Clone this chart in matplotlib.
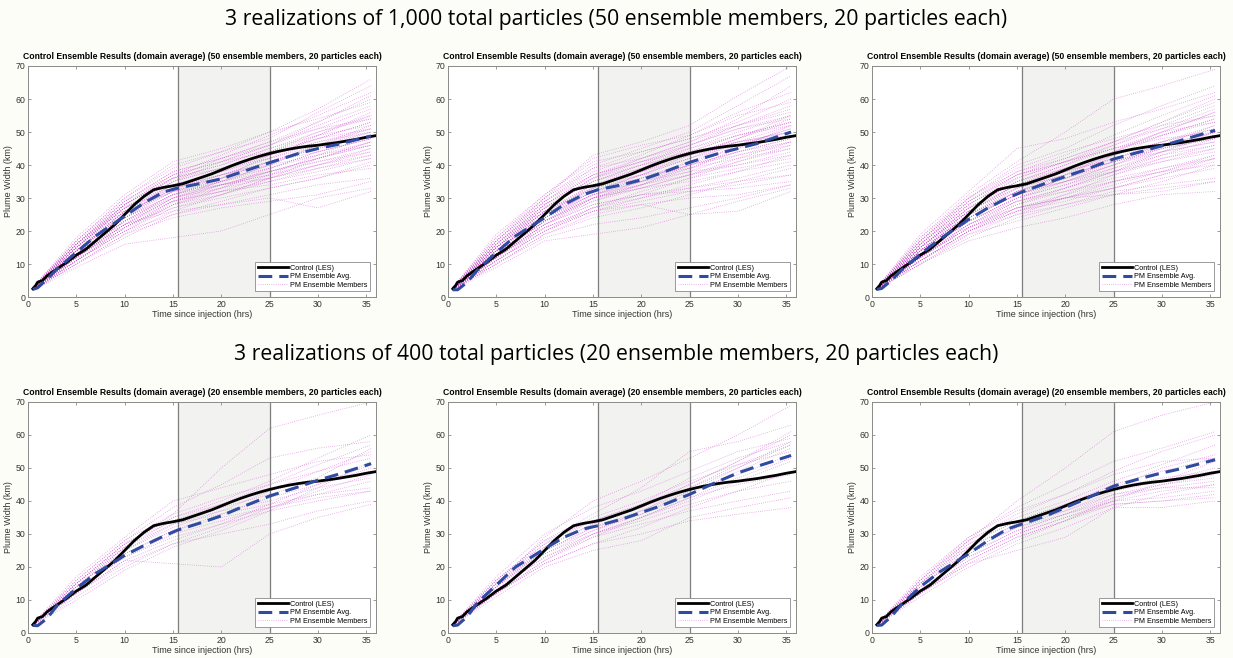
import numpy as np
import matplotlib.pyplot as plt
from matplotlib.lines import Line2D

# --- datos ---------------------------------------------------------------
# curva de control (LES), igual en los seis paneles
ctrl_t = [0.5, 0.8, 1.0, 1.5, 2, 3, 4, 5, 6, 7, 8, 9, 10, 11, 12, 13, 14, 15,
          16, 17, 18, 19, 20, 21, 22, 23, 24, 25, 26, 27, 28, 29, 30, 31, 32,
          33, 34, 35, 36]
ctrl_w = [2.5, 3.5, 4.5, 5.0, 6.5, 8.5, 10.5, 12.7, 14.5, 17.0, 19.5, 22.0,
          25.0, 28.0, 30.5, 32.5, 33.2, 33.7, 34.3, 35.3, 36.3, 37.3, 38.5,
          39.7, 40.8, 41.8, 42.7, 43.5, 44.2, 44.8, 45.3, 45.7, 46.0, 46.4,
          46.8, 47.3, 47.8, 48.4, 48.9]

# media del ensemble (PM) por panel
avg_t = [0.5, 1, 2, 3, 5, 7, 10, 12, 14, 15.5, 18, 20, 22, 25, 28, 30, 32, 35.5]
avg_1 = [2.3, 2.8, 5.5, 8.5, 13.5, 18.5, 24.5, 28.5, 31.8, 33.0, 34.5, 35.8,
         37.8, 40.7, 43.5, 45.0, 46.2, 48.8]
avg_2 = [2.2, 2.2, 4.5, 8.0, 13.5, 18.5, 24.0, 28.0, 31.0, 32.5, 34.0, 35.5,
         37.5, 40.8, 43.5, 45.0, 46.5, 50.0]
avg_3 = [2.3, 2.6, 5.0, 8.0, 13.0, 17.5, 23.5, 27.0, 30.0, 31.8, 34.5, 36.5,
         38.5, 41.8, 44.2, 45.8, 47.5, 50.5]
avg_4 = [2.3, 2.2, 4.5, 8.3, 13.5, 18.0, 23.5, 26.5, 29.3, 31.2, 33.5, 35.5,
         38.0, 41.5, 44.3, 46.3, 48.0, 51.3]
avg_5 = [2.2, 2.4, 5.0, 9.0, 14.5, 20.0, 25.5, 29.0, 31.5, 32.5, 34.5, 36.5,
         38.5, 42.0, 46.0, 48.5, 50.5, 53.8]
avg_6 = [2.3, 2.4, 5.0, 8.5, 14.0, 18.5, 24.0, 28.0, 31.5, 33.0, 35.5, 38.0,
         40.5, 44.5, 47.0, 48.5, 49.8, 52.5]

# miembros del ensemble (uno por fila) en estos tiempos
mem_t = [0.5, 5, 10, 15, 20, 25, 30, 35.5]

mem_1 = [
    [2.5, 14, 26, 35, 39, 44, 49, 55], [2.3, 12, 22, 30, 34, 38, 42, 46],
    [2.8, 16, 29, 38, 42, 47, 53, 60], [2.1, 10, 18, 25, 29, 33, 36, 40],
    [2.6, 15, 27, 33, 36, 41, 45, 49], [2.4, 13, 24, 31, 35, 40, 46, 52],
    [2.2, 11, 20, 27, 31, 36, 40, 44], [2.9, 17, 30, 40, 44, 48, 56, 64],
    [2.5, 13, 23, 29, 32, 35, 38, 42], [2.3, 12, 21, 28, 33, 39, 44, 48],
    [2.7, 15, 28, 36, 40, 45, 50, 54], [2.0, 9, 16, 18, 20, 25, 30, 33],
    [2.6, 14, 25, 34, 38, 42, 47, 51], [2.4, 14, 26, 32, 35, 38, 42, 47],
    [2.8, 16, 28, 37, 43, 49, 55, 62], [2.2, 11, 21, 29, 34, 37, 41, 45],
    [2.5, 13, 24, 33, 37, 41, 44, 48], [2.3, 12, 22, 26, 28, 30, 27, 32],
    [2.9, 18, 31, 41, 45, 50, 57, 66], [2.4, 13, 23, 31, 36, 43, 48, 53],
    [2.6, 15, 26, 32, 34, 36, 39, 43], [2.1, 10, 19, 26, 31, 36, 42, 47],
    [2.7, 16, 27, 35, 41, 46, 51, 57], [2.5, 14, 25, 33, 36, 39, 43, 46],
    [2.3, 12, 22, 30, 35, 40, 46, 50], [2.6, 15, 28, 37, 41, 44, 48, 51],
    [2.2, 11, 20, 25, 28, 31, 34, 36], [2.8, 17, 29, 38, 42, 46, 52, 58],
    [2.4, 13, 24, 30, 34, 38, 41, 44], [2.5, 14, 26, 34, 38, 43, 48, 53],
    [2.7, 15, 27, 36, 39, 42, 46, 49], [2.3, 12, 21, 29, 32, 34, 37, 39],
    [2.6, 14, 25, 32, 37, 42, 49, 56], [2.4, 13, 23, 31, 34, 37, 40, 43],
    [2.9, 17, 30, 39, 44, 50, 54, 59], [2.2, 11, 21, 28, 32, 37, 43, 49],
    [2.5, 14, 25, 33, 37, 40, 43, 47], [2.3, 12, 22, 27, 30, 33, 36, 41],
    [2.7, 16, 28, 36, 40, 45, 49, 52], [2.4, 13, 24, 32, 36, 41, 45, 50],
    [2.6, 15, 27, 35, 39, 43, 47, 50], [2.1, 10, 19, 24, 27, 29, 31, 35],
    [2.8, 16, 29, 37, 41, 46, 53, 61], [2.5, 14, 24, 31, 35, 39, 44, 48],
    [2.3, 12, 23, 30, 33, 36, 40, 45], [2.6, 15, 27, 34, 38, 44, 50, 55],
    [2.4, 13, 22, 29, 33, 38, 42, 46], [2.7, 16, 28, 36, 42, 47, 51, 54],
    [2.2, 11, 20, 28, 31, 35, 39, 42], [2.5, 14, 26, 34, 37, 41, 46, 51],
]

mem_2 = [
    [2.4, 14, 25, 33, 38, 43, 48, 54], [2.2, 11, 20, 26, 30, 34, 38, 43],
    [2.8, 17, 30, 40, 45, 50, 58, 67], [2.1, 9, 17, 19, 21, 25, 29, 33],
    [2.6, 15, 27, 35, 40, 44, 49, 53], [2.3, 12, 22, 28, 31, 33, 35, 37],
    [2.5, 14, 25, 31, 35, 39, 44, 48], [2.9, 19, 31, 42, 46, 49, 56, 62],
    [2.4, 13, 23, 30, 34, 40, 46, 51], [2.2, 10, 19, 25, 28, 25, 26, 32],
    [2.7, 16, 28, 37, 42, 47, 52, 57], [2.5, 13, 24, 32, 37, 42, 47, 50],
    [2.3, 12, 21, 27, 31, 36, 41, 46], [2.6, 15, 26, 34, 37, 39, 42, 45],
    [3.0, 18, 30, 43, 47, 52, 61, 70], [2.4, 13, 23, 29, 33, 37, 42, 47],
    [2.2, 11, 20, 27, 30, 33, 36, 40], [2.7, 16, 28, 36, 41, 46, 51, 55],
    [2.5, 14, 25, 33, 38, 44, 49, 53], [2.3, 12, 22, 28, 31, 32, 33, 35],
    [2.6, 15, 27, 35, 39, 43, 47, 50], [2.4, 13, 24, 31, 36, 41, 45, 49],
    [2.8, 17, 29, 39, 44, 48, 53, 60], [2.2, 10, 18, 22, 24, 27, 30, 34],
    [2.5, 14, 26, 33, 36, 40, 43, 46], [2.7, 16, 27, 36, 42, 47, 54, 64],
    [2.3, 12, 22, 29, 34, 39, 45, 52], [2.6, 15, 26, 32, 35, 38, 40, 44],
    [2.4, 13, 24, 30, 33, 37, 41, 45], [2.9, 18, 31, 41, 44, 48, 52, 56],
    [2.5, 14, 25, 34, 39, 45, 50, 55], [2.3, 11, 20, 26, 29, 32, 34, 37],
    [2.6, 15, 28, 37, 41, 44, 47, 49], [2.4, 13, 23, 31, 35, 41, 47, 52],
    [2.7, 16, 29, 38, 43, 49, 55, 59], [2.2, 11, 21, 27, 32, 36, 39, 42],
    [2.5, 14, 24, 32, 36, 40, 44, 48], [2.3, 12, 22, 30, 34, 38, 43, 47],
    [2.8, 17, 30, 39, 42, 46, 51, 54], [2.4, 12, 21, 26, 28, 30, 31, 34],
    [2.6, 15, 26, 34, 38, 42, 46, 51], [2.5, 14, 25, 32, 37, 43, 48, 53],
    [2.3, 12, 23, 30, 33, 35, 38, 41], [2.7, 16, 28, 35, 40, 46, 52, 58],
    [2.4, 13, 24, 31, 34, 37, 40, 43], [2.6, 15, 27, 36, 40, 43, 46, 50],
    [2.2, 10, 19, 24, 27, 31, 35, 39], [2.5, 14, 26, 33, 37, 42, 48, 55],
    [2.8, 17, 29, 37, 41, 45, 49, 52], [2.4, 13, 23, 30, 35, 40, 44, 47],
]

mem_3 = [
    [2.5, 14, 26, 34, 39, 44, 50, 56], [2.2, 11, 19, 23, 27, 31, 35, 40],
    [2.8, 18, 31, 41, 50, 60, 64, 69], [2.4, 13, 23, 29, 32, 35, 38, 42],
    [2.6, 15, 27, 35, 40, 46, 52, 58], [2.3, 12, 21, 27, 30, 31, 32, 35],
    [2.5, 14, 24, 31, 36, 41, 46, 50], [2.9, 17, 30, 40, 45, 52, 58, 64],
    [2.2, 10, 17, 21, 24, 28, 31, 32], [2.7, 16, 28, 36, 41, 47, 53, 60],
    [2.4, 13, 24, 32, 36, 40, 44, 47], [2.6, 15, 26, 33, 38, 43, 47, 51],
    [2.3, 11, 20, 26, 31, 37, 42, 46], [2.5, 14, 25, 32, 35, 38, 41, 44],
    [2.8, 17, 29, 38, 43, 49, 55, 61], [2.4, 12, 22, 28, 33, 38, 43, 48],
    [2.2, 10, 18, 24, 28, 32, 34, 36], [2.6, 15, 27, 34, 38, 42, 46, 49],
    [2.5, 14, 25, 31, 36, 42, 47, 52], [2.3, 12, 21, 27, 31, 35, 39, 43],
    [2.7, 16, 28, 37, 42, 47, 51, 55], [2.4, 13, 23, 30, 34, 39, 44, 49],
    [2.9, 19, 32, 45, 48, 53, 57, 62], [2.3, 11, 20, 25, 28, 31, 33, 35],
    [2.6, 15, 26, 33, 37, 41, 45, 48], [2.5, 14, 25, 32, 37, 44, 50, 56],
    [2.4, 12, 22, 29, 33, 37, 41, 45], [2.7, 16, 27, 35, 40, 45, 49, 53],
    [2.2, 11, 20, 27, 30, 33, 37, 41], [2.8, 17, 30, 38, 42, 47, 53, 59],
    [2.5, 14, 24, 31, 35, 40, 45, 50], [2.3, 12, 21, 28, 32, 36, 39, 42],
    [2.6, 15, 26, 34, 39, 43, 47, 51], [2.4, 13, 23, 30, 35, 40, 46, 52],
    [2.7, 16, 29, 37, 41, 45, 48, 50], [2.2, 10, 19, 25, 30, 35, 38, 40],
    [2.5, 14, 25, 33, 37, 41, 44, 47], [2.3, 12, 22, 29, 33, 38, 44, 50],
    [2.8, 18, 30, 39, 44, 48, 52, 55], [2.4, 13, 22, 27, 30, 33, 36, 39],
    [2.6, 15, 27, 35, 39, 44, 49, 54], [2.5, 13, 24, 31, 36, 41, 45, 48],
    [2.3, 12, 21, 26, 30, 34, 38, 43], [2.7, 16, 28, 36, 41, 46, 51, 57],
    [2.4, 13, 23, 30, 34, 38, 42, 45], [2.6, 15, 26, 34, 38, 42, 46, 50],
    [2.2, 11, 20, 26, 29, 33, 37, 42], [2.5, 14, 25, 32, 37, 43, 49, 54],
    [2.8, 17, 29, 37, 41, 45, 50, 53], [2.4, 13, 24, 31, 35, 39, 43, 46],
]

mem_4 = [
    [2.5, 14, 26, 36, 50, 62, 66, 70], [2.3, 12, 22, 21, 20, 30, 35, 39],
    [2.6, 15, 27, 35, 40, 46, 53, 60], [2.4, 13, 23, 29, 33, 37, 40, 43],
    [2.7, 16, 28, 38, 45, 53, 56, 58], [2.2, 11, 20, 27, 30, 33, 37, 40],
    [2.5, 14, 25, 32, 37, 43, 49, 55], [2.6, 15, 26, 34, 39, 45, 51, 57],
    [2.3, 12, 21, 27, 32, 38, 43, 48], [2.4, 13, 24, 31, 36, 41, 45, 50],
    [2.8, 17, 29, 40, 44, 48, 52, 54], [2.5, 14, 25, 33, 36, 39, 42, 44],
    [2.2, 10, 19, 26, 31, 37, 44, 52], [2.6, 15, 27, 34, 38, 42, 46, 49],
    [2.4, 13, 23, 30, 34, 38, 41, 43], [2.7, 16, 28, 36, 41, 45, 49, 53],
    [2.3, 12, 22, 28, 33, 39, 45, 51], [2.5, 14, 26, 33, 37, 40, 44, 47],
    [2.4, 13, 24, 31, 35, 38, 42, 46], [2.6, 15, 27, 35, 39, 43, 47, 56],
]

mem_5 = [
    [2.5, 15, 29, 40, 46, 53, 60, 69], [2.3, 12, 21, 27, 30, 34, 36, 38],
    [2.6, 16, 28, 36, 44, 55, 58, 63], [2.4, 13, 23, 30, 35, 41, 47, 53],
    [2.7, 16, 27, 34, 39, 45, 52, 60], [2.2, 11, 20, 25, 28, 35, 38, 41],
    [2.5, 14, 26, 33, 38, 44, 51, 57], [2.6, 15, 25, 31, 36, 42, 49, 56],
    [2.3, 12, 22, 29, 35, 41, 45, 48], [2.4, 14, 25, 32, 37, 43, 50, 58],
    [2.8, 17, 30, 38, 43, 49, 55, 59], [2.5, 14, 24, 30, 34, 39, 43, 46],
    [2.3, 12, 21, 27, 32, 38, 43, 49], [2.6, 15, 27, 35, 40, 46, 51, 55],
    [2.4, 13, 23, 29, 33, 37, 40, 43], [2.7, 16, 28, 34, 39, 47, 53, 58],
    [2.3, 12, 22, 30, 35, 40, 46, 52], [2.5, 14, 25, 32, 36, 43, 48, 54],
    [2.4, 13, 24, 31, 37, 44, 50, 57], [2.6, 15, 26, 33, 38, 45, 52, 61],
]

mem_6 = [
    [2.5, 15, 28, 40, 50, 61, 66, 70], [2.3, 12, 21, 25, 29, 38, 38, 40],
    [2.6, 16, 29, 38, 45, 52, 56, 61], [2.4, 13, 23, 30, 35, 40, 41, 43],
    [2.7, 16, 28, 36, 42, 49, 55, 60], [2.2, 11, 20, 27, 32, 38, 42, 45],
    [2.5, 14, 25, 32, 37, 42, 45, 47], [2.6, 15, 26, 33, 38, 44, 50, 54],
    [2.3, 12, 22, 29, 34, 39, 40, 42], [2.4, 13, 24, 31, 36, 41, 44, 46],
    [2.8, 17, 29, 37, 42, 48, 52, 53], [2.5, 14, 25, 32, 36, 40, 43, 45],
    [2.3, 12, 21, 28, 34, 40, 46, 52], [2.6, 15, 27, 34, 39, 44, 47, 49],
    [2.4, 13, 23, 30, 35, 39, 40, 41], [2.7, 16, 28, 35, 40, 46, 51, 57],
    [2.3, 12, 22, 29, 34, 41, 45, 48], [2.5, 14, 26, 33, 37, 43, 46, 50],
    [2.4, 13, 24, 31, 36, 42, 44, 44], [2.6, 15, 27, 34, 39, 45, 49, 53],
]

paneles = [
    (mem_1, avg_1, 50), (mem_2, avg_2, 50), (mem_3, avg_3, 50),
    (mem_4, avg_4, 20), (mem_5, avg_5, 20), (mem_6, avg_6, 20),
]

titulos_fila = [
    "3 realizations of 1,000 total particles (50 ensemble members, 20 particles each)",
    "3 realizations of 400 total particles (20 ensemble members, 20 particles each)",
]

xticks = [0, 5, 10, 15, 20, 25, 30, 35]
yticks = [0, 10, 20, 30, 40, 50, 60, 70]
ventana = (15.5, 25)

COLOR_MIEMBRO = "#c845c8"
COLOR_MEDIA = "#2f4b9f"
COLOR_EJE = "#8a8a8a"
ESTILO_MIEMBRO = (0, (0.8, 1.8))

plt.rcParams["font.family"] = ["Liberation Sans", "DejaVu Sans"]


def dibujar_panel(ax, miembros, media, n):
    # Ventana sombreada y sus bordes
    ax.axvspan(ventana[0], ventana[1], color="#f2f3f1", zorder=0)
    for xv in ventana:
        ax.axvline(xv, color="#7f7f7f", linewidth=0.9, zorder=1)

    for fila in miembros:
        ax.plot(mem_t, fila, linestyle=ESTILO_MIEMBRO, color=COLOR_MIEMBRO,
                linewidth=0.6, alpha=0.65, zorder=2)

    ax.plot(ctrl_t, ctrl_w, color="black", linewidth=2.0, zorder=4)
    ax.plot(avg_t, media, color=COLOR_MEDIA, linewidth=2.2,
            dashes=(4.5, 2.3), zorder=5)

    ax.set_xlim(0, 36)
    ax.set_ylim(0, 70)
    ax.set_xticks(xticks)
    ax.set_yticks(yticks)
    ax.tick_params(direction="in", length=2.5, width=0.6, labelsize=6.3,
                   top=True, right=True, colors=COLOR_EJE, labelcolor="#333333",
                   pad=2)
    for s in ax.spines.values():
        s.set_color(COLOR_EJE)
        s.set_linewidth(0.7)

    ax.set_xlabel("Time since injection (hrs)", fontsize=6.5, color="#333333",
                  labelpad=1)
    ax.set_ylabel("Plume Width (km)", fontsize=6.5, color="#333333",
                  labelpad=2)
    ax.set_title("Control Ensemble Results (domain average) "
                 f"({n} ensemble members, 20 particles each)",
                 fontsize=6.2, fontweight="bold", pad=5)

    handles = [
        Line2D([], [], color="black", linewidth=2.0),
        Line2D([], [], color=COLOR_MEDIA, linewidth=2.2, dashes=(4.5, 2.3)),
        Line2D([], [], color=COLOR_MIEMBRO, linewidth=0.6,
               linestyle=ESTILO_MIEMBRO, alpha=0.65),
    ]
    leg = ax.legend(handles, ["Control (LES)", "PM Ensemble Avg.",
                              "PM Ensemble Members"],
                    loc="lower right", fontsize=5.2, fancybox=False,
                    framealpha=1, edgecolor=COLOR_EJE, handlelength=4.2,
                    handletextpad=0.3, borderpad=0.35, labelspacing=0.2,
                    borderaxespad=0.8)
    leg.get_frame().set_linewidth(0.6)


fig = plt.figure(figsize=(12.33, 6.58), dpi=100, facecolor="#fdfdf7")

lefts = [0.0227, 0.3633, 0.7072]
bottoms = [0.5486, 0.0380]
ancho, alto = 0.2822, 0.3511

for i, (miembros, media, n) in enumerate(paneles):
    fila, col = divmod(i, 3)
    ax = fig.add_axes([lefts[col], bottoms[fila], ancho, alto])
    ax.set_facecolor("white")
    dibujar_panel(ax, miembros, media, n)

fig.text(0.5, 0.970, titulos_fila[0], ha="center", va="center",
         fontsize=15.3, family="Open Sans")
fig.text(0.5, 0.4605, titulos_fila[1], ha="center", va="center",
         fontsize=15.3, family="Open Sans")

fig.savefig("out.png", dpi=100, facecolor=fig.get_facecolor())
